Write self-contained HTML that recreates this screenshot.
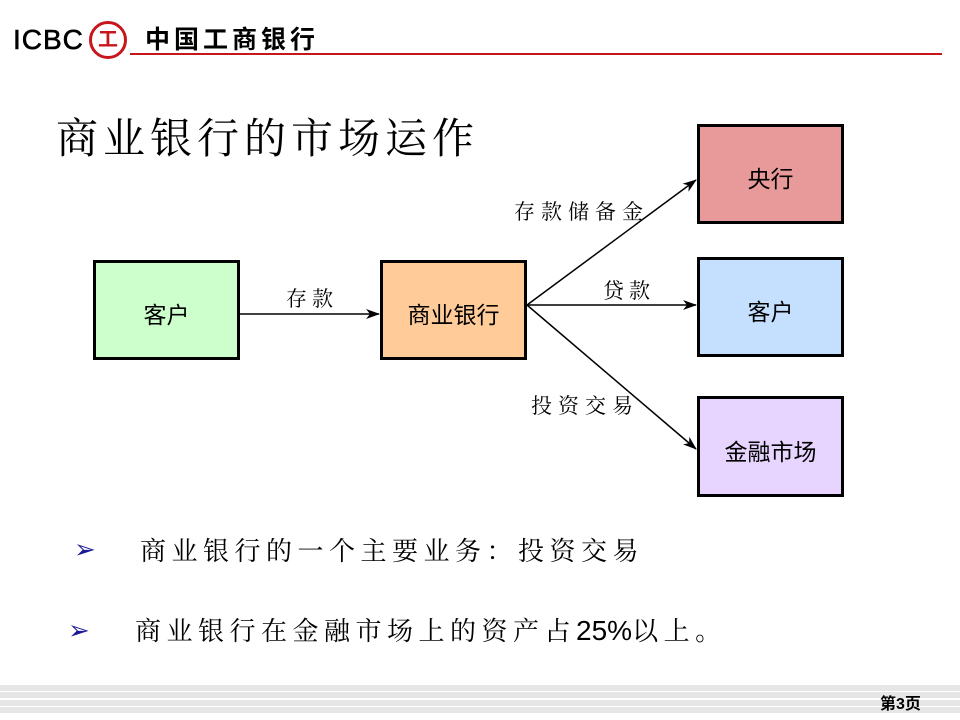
<!DOCTYPE html>
<html><head><meta charset="utf-8"><style>
body{margin:0;width:960px;height:720px;position:relative;background:#fff;overflow:hidden;font-family:"Liberation Sans","Noto Sans CJK SC",sans-serif}
.a{position:absolute;white-space:nowrap}
.box{position:absolute;border:3px solid #000;box-sizing:border-box;display:flex;align-items:center;justify-content:center;font-size:23px;padding-top:6px}
.s{font-family:"Liberation Serif","Noto Serif CJK SC",serif}
.st{position:absolute;left:0;width:960px;height:6px;background:#e6e6e6}
</style></head><body>
<div class="a" style="left:13px;top:24px;font-size:28px;font-weight:normal;letter-spacing:1px;-webkit-text-stroke:0.6px #000">ICBC</div>
<div class="a" style="left:89px;top:21px;width:38px;height:38px;border:3px solid #c8161d;border-radius:50%;box-sizing:border-box;color:#c8161d;font-size:20px;font-weight:bold;text-align:center;line-height:32px">工</div>
<div class="a" style="left:145px;top:20px;font-size:25px;font-weight:bold;letter-spacing:4px">中国工商银行</div>
<div class="a" style="left:130px;top:53px;width:812px;height:2px;background:#c8161d"></div>
<div class="a s" style="left:56px;top:106px;font-size:42px;letter-spacing:5px">商业银行的市场运作</div>
<div class="box" style="left:93px;top:260px;width:147px;height:100px;background:#ccffcc">客户</div>
<div class="box" style="left:380px;top:260px;width:147px;height:100px;background:#ffcc99">商业银行</div>
<div class="box" style="left:697px;top:124px;width:147px;height:100px;background:#e89999">央行</div>
<div class="box" style="left:697px;top:257px;width:147px;height:100px;background:#c5e0ff">客户</div>
<div class="box" style="left:697px;top:396px;width:147px;height:101px;background:#e8d5ff">金融市场</div>
<svg class="a" style="left:0;top:0" width="960" height="720">
<defs><marker id="m" markerWidth="14" markerHeight="10" refX="13" refY="5" orient="auto" markerUnits="userSpaceOnUse"><path d="M0,0 L14,5 L0,10 L4,5z" fill="#000"/></marker></defs>
<g stroke="#000" stroke-width="1.5" marker-end="url(#m)">
<line x1="240" y1="314" x2="379" y2="314"/>
<line x1="527" y1="305" x2="696" y2="180"/>
<line x1="527" y1="305" x2="696" y2="305"/>
<line x1="527" y1="305" x2="696" y2="449"/>
</g></svg>
<div class="a s" style="left:286px;top:283px;font-size:21px;letter-spacing:5px">存款</div>
<div class="a s" style="left:514px;top:196px;font-size:21px;letter-spacing:6px">存款储备金</div>
<div class="a s" style="left:603px;top:275px;font-size:21px;letter-spacing:5px">贷款</div>
<div class="a s" style="left:531px;top:390px;font-size:21px;letter-spacing:6px">投资交易</div>
<div class="a" style="left:74px;top:534px;font-size:26px;color:#1a1a99">➢</div>
<div class="a s" style="left:140px;top:531px;font-size:26px;letter-spacing:5.5px">商业银行的一个主要业务：投资交易</div>
<div class="a" style="left:68px;top:615px;font-size:26px;color:#1a1a99">➢</div>
<div class="a s" style="left:135px;top:611px;font-size:26px;letter-spacing:5.5px">商业银行在金融市场上的资产占<span style="font-family:'Liberation Sans',sans-serif;letter-spacing:0;font-size:28px">25%</span>以上。</div>
<div class="st" style="top:685px"></div>
<div class="st" style="top:692px"></div>
<div class="st" style="top:700px"></div>
<div class="st" style="top:707px"></div>
<div class="a" style="left:880px;top:690px;font-size:16px;font-weight:bold">第3页</div>
</body></html>
